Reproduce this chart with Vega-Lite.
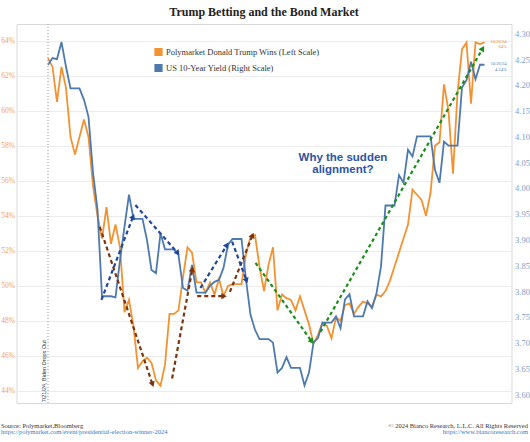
{
  "$schema": "https://vega.github.io/schema/vega-lite/v6.json",
  "width": 495,
  "height": 379,
  "autosize": {"type": "none"},
  "padding": {"left": 16.5, "top": 24, "right": 18.5, "bottom": 39},
  "background": "white",
  "title": {"text": "Trump Betting and the Bond Market", "font": "Liberation Serif", "fontSize": 12, "fontWeight": "bold", "color": "#222222", "anchor": "middle", "offset": 5},
  "datasets": {
    "series": [
      {"date": "2024-07-21", "polymarket": 63.0, "yield": 4.239},
      {"date": "2024-07-22", "polymarket": 62.5, "yield": 4.252},
      {"date": "2024-07-23", "polymarket": 60.5, "yield": 4.250},
      {"date": "2024-07-24", "polymarket": 62.5, "yield": 4.283},
      {"date": "2024-07-25", "polymarket": 61.3, "yield": 4.235},
      {"date": "2024-07-26", "polymarket": 58.5, "yield": 4.193},
      {"date": "2024-07-27", "polymarket": 57.5, "yield": 4.193},
      {"date": "2024-07-28", "polymarket": 58.5, "yield": 4.193},
      {"date": "2024-07-29", "polymarket": 59.5, "yield": 4.171},
      {"date": "2024-07-30", "polymarket": 58.5, "yield": 4.138},
      {"date": "2024-07-31", "polymarket": 55.7, "yield": 4.030},
      {"date": "2024-08-01", "polymarket": 54.0, "yield": 3.958},
      {"date": "2024-08-02", "polymarket": 52.7, "yield": 3.790},
      {"date": "2024-08-03", "polymarket": 54.5, "yield": 3.790},
      {"date": "2024-08-04", "polymarket": 52.4, "yield": 3.790},
      {"date": "2024-08-05", "polymarket": 53.5, "yield": 3.788},
      {"date": "2024-08-06", "polymarket": 52.2, "yield": 3.860},
      {"date": "2024-08-07", "polymarket": 48.5, "yield": 3.925},
      {"date": "2024-08-08", "polymarket": 49.2, "yield": 3.987},
      {"date": "2024-08-09", "polymarket": 47.7, "yield": 3.940},
      {"date": "2024-08-10", "polymarket": 45.3, "yield": 3.940},
      {"date": "2024-08-11", "polymarket": 45.7, "yield": 3.940},
      {"date": "2024-08-12", "polymarket": 45.9, "yield": 3.899},
      {"date": "2024-08-13", "polymarket": 45.6, "yield": 3.841},
      {"date": "2024-08-14", "polymarket": 44.6, "yield": 3.835},
      {"date": "2024-08-15", "polymarket": 44.3, "yield": 3.912},
      {"date": "2024-08-16", "polymarket": 45.5, "yield": 3.881},
      {"date": "2024-08-17", "polymarket": 48.4, "yield": 3.881},
      {"date": "2024-08-18", "polymarket": 48.4, "yield": 3.881},
      {"date": "2024-08-19", "polymarket": 48.6, "yield": 3.870},
      {"date": "2024-08-20", "polymarket": 50.5, "yield": 3.806},
      {"date": "2024-08-21", "polymarket": 52.2, "yield": 3.801},
      {"date": "2024-08-22", "polymarket": 51.9, "yield": 3.851},
      {"date": "2024-08-23", "polymarket": 50.2, "yield": 3.797},
      {"date": "2024-08-24", "polymarket": 50.2, "yield": 3.797},
      {"date": "2024-08-25", "polymarket": 49.6, "yield": 3.797},
      {"date": "2024-08-26", "polymarket": 50.2, "yield": 3.810},
      {"date": "2024-08-27", "polymarket": 49.5, "yield": 3.818},
      {"date": "2024-08-28", "polymarket": 50.4, "yield": 3.822},
      {"date": "2024-08-29", "polymarket": 49.4, "yield": 3.845},
      {"date": "2024-08-30", "polymarket": 50.0, "yield": 3.890},
      {"date": "2024-08-31", "polymarket": 50.1, "yield": 3.901},
      {"date": "2024-09-01", "polymarket": 50.1, "yield": 3.901},
      {"date": "2024-09-02", "polymarket": 50.1, "yield": 3.901},
      {"date": "2024-09-03", "polymarket": 51.8, "yield": 3.822},
      {"date": "2024-09-04", "polymarket": 52.8, "yield": 3.754},
      {"date": "2024-09-05", "polymarket": 52.9, "yield": 3.725},
      {"date": "2024-09-06", "polymarket": 51.1, "yield": 3.707},
      {"date": "2024-09-07", "polymarket": 49.7, "yield": 3.707},
      {"date": "2024-09-08", "polymarket": 51.2, "yield": 3.707},
      {"date": "2024-09-09", "polymarket": 52.2, "yield": 3.700},
      {"date": "2024-09-10", "polymarket": 48.6, "yield": 3.642},
      {"date": "2024-09-11", "polymarket": 49.5, "yield": 3.651},
      {"date": "2024-09-12", "polymarket": 49.3, "yield": 3.672},
      {"date": "2024-09-13", "polymarket": 49.2, "yield": 3.651},
      {"date": "2024-09-14", "polymarket": 48.6, "yield": 3.651},
      {"date": "2024-09-15", "polymarket": 49.4, "yield": 3.651},
      {"date": "2024-09-16", "polymarket": 48.6, "yield": 3.617},
      {"date": "2024-09-17", "polymarket": 47.8, "yield": 3.642},
      {"date": "2024-09-18", "polymarket": 46.7, "yield": 3.700},
      {"date": "2024-09-19", "polymarket": 47.2, "yield": 3.709},
      {"date": "2024-09-20", "polymarket": 47.9, "yield": 3.739},
      {"date": "2024-09-21", "polymarket": 47.7, "yield": 3.739},
      {"date": "2024-09-22", "polymarket": 47.0, "yield": 3.739},
      {"date": "2024-09-23", "polymarket": 48.2, "yield": 3.751},
      {"date": "2024-09-24", "polymarket": 48.0, "yield": 3.728},
      {"date": "2024-09-25", "polymarket": 48.9, "yield": 3.784},
      {"date": "2024-09-26", "polymarket": 49.0, "yield": 3.794},
      {"date": "2024-09-27", "polymarket": 48.4, "yield": 3.751},
      {"date": "2024-09-28", "polymarket": 48.8, "yield": 3.751},
      {"date": "2024-09-29", "polymarket": 49.1, "yield": 3.751},
      {"date": "2024-09-30", "polymarket": 49.0, "yield": 3.780},
      {"date": "2024-10-01", "polymarket": 48.8, "yield": 3.767},
      {"date": "2024-10-02", "polymarket": 49.5, "yield": 3.796},
      {"date": "2024-10-03", "polymarket": 49.4, "yield": 3.848},
      {"date": "2024-10-04", "polymarket": 49.7, "yield": 3.966},
      {"date": "2024-10-05", "polymarket": 50.3, "yield": 3.966},
      {"date": "2024-10-06", "polymarket": 51.1, "yield": 3.966},
      {"date": "2024-10-07", "polymarket": 51.9, "yield": 4.025},
      {"date": "2024-10-08", "polymarket": 52.7, "yield": 4.010},
      {"date": "2024-10-09", "polymarket": 53.5, "yield": 4.074},
      {"date": "2024-10-10", "polymarket": 55.5, "yield": 4.061},
      {"date": "2024-10-11", "polymarket": 55.2, "yield": 4.100},
      {"date": "2024-10-12", "polymarket": 54.9, "yield": 4.100},
      {"date": "2024-10-13", "polymarket": 54.0, "yield": 4.100},
      {"date": "2024-10-14", "polymarket": 55.3, "yield": 4.100},
      {"date": "2024-10-15", "polymarket": 58.0, "yield": 4.035},
      {"date": "2024-10-16", "polymarket": 58.2, "yield": 4.010},
      {"date": "2024-10-17", "polymarket": 61.5, "yield": 4.090},
      {"date": "2024-10-18", "polymarket": 60.0, "yield": 4.082},
      {"date": "2024-10-19", "polymarket": 56.4, "yield": 4.082},
      {"date": "2024-10-20", "polymarket": 61.0, "yield": 4.082},
      {"date": "2024-10-21", "polymarket": 63.5, "yield": 4.195},
      {"date": "2024-10-22", "polymarket": 63.9, "yield": 4.209},
      {"date": "2024-10-23", "polymarket": 60.4, "yield": 4.245},
      {"date": "2024-10-24", "polymarket": 63.9, "yield": 4.211},
      {"date": "2024-10-25", "polymarket": 63.8, "yield": 4.239},
      {"date": "2024-10-26", "polymarket": 63.9, "yield": 4.239}
    ],
    "arrows": [
      {"id": 1, "series": "Polymarket", "from_date": "2024-08-01T12:00Z", "from_value": 53.37, "to_date": "2024-08-13T04:00Z", "to_value": 44.42},
      {"id": 2, "series": "Polymarket", "from_date": "2024-08-17T14:00Z", "from_value": 44.71, "to_date": "2024-08-22T01:00Z", "to_value": 50.9},
      {"id": 3, "series": "Polymarket", "from_date": "2024-08-23T04:00Z", "from_value": 49.41, "to_date": "2024-08-28T22:00Z", "to_value": 49.41},
      {"id": 4, "series": "Polymarket", "from_date": "2024-08-30T10:00Z", "from_value": 49.66, "to_date": "2024-09-04T09:00Z", "to_value": 52.84},
      {"id": 5, "series": "Yield", "from_date": "2024-08-01T21:00Z", "from_value": 3.783, "to_date": "2024-08-08T20:00Z", "to_value": 3.943},
      {"id": 6, "series": "Yield", "from_date": "2024-08-09T10:00Z", "from_value": 3.967, "to_date": "2024-08-18T17:00Z", "to_value": 3.875},
      {"id": 7, "series": "Yield", "from_date": "2024-08-23T21:00Z", "from_value": 3.806, "to_date": "2024-08-29T16:00Z", "to_value": 3.888},
      {"id": 8, "series": "Yield", "from_date": "2024-08-30T22:00Z", "from_value": 3.896, "to_date": "2024-09-03T01:00Z", "to_value": 3.822},
      {"id": 9, "series": "Both", "from_date": "2024-09-05T03:00Z", "from_value": 51.31, "to_date": "2024-09-17T12:00Z", "to_value": 46.86},
      {"id": 10, "series": "Both", "from_date": "2024-09-19T13:00Z", "from_value": 47.37, "to_date": "2024-10-25T12:00Z", "to_value": 63.51}
    ],
    "notes": [
      {"kind": "event", "date": "2024-07-21", "value": 43.35, "text": "7/21/24, Biden Drops Out"},
      {"kind": "question", "date": "2024-09-24T13:00Z", "value": 57.14, "text": "Why the sudden\nalignment?"},
      {"kind": "polymarket_end", "date": "2024-10-30T22:00Z", "value": 63.9, "text": "10/26/24\n64%"},
      {"kind": "yield_end", "date": "2024-10-30T22:00Z", "value": 4.24, "text": "10/26/24\n4.24%"},
      {"kind": "source", "date": "2024-07-10T13:00Z", "value": 42.0, "text": "Source: Polymarket,Bloomberg"},
      {"kind": "source_url", "date": "2024-07-10T13:00Z", "value": 41.63, "text": "https://polymarket.com/event/presidential-election-winner-2024"},
      {"kind": "copyright", "date": "2024-11-04T16:00Z", "value": 42.0, "text": "© 2024 Bianco Research, L.L.C. All Rights Reserved"},
      {"kind": "copyright_url", "date": "2024-11-04T16:00Z", "value": 41.65, "text": "https://www.biancoresearch.com"}
    ]
  },
  "layer": [
    {
      "data": {"name": "series"},
      "mark": {"type": "line", "strokeWidth": 1.8},
      "encoding": {
        "x": {"field": "date", "type": "temporal", "scale": {"type": "utc", "domain": [{"year": 2024, "month": 7, "date": 14, "utc": true}, {"year": 2024, "month": 11, "date": 1, "utc": true}]},
          "axis": {"orient": "bottom", "values": [{"year": 2024, "month": 7, "date": 14, "utc": true}, {"year": 2024, "month": 7, "date": 24, "utc": true}, {"year": 2024, "month": 8, "date": 3, "utc": true}, {"year": 2024, "month": 8, "date": 13, "utc": true}, {"year": 2024, "month": 8, "date": 23, "utc": true}, {"year": 2024, "month": 9, "date": 2, "utc": true}, {"year": 2024, "month": 9, "date": 12, "utc": true}, {"year": 2024, "month": 9, "date": 22, "utc": true}, {"year": 2024, "month": 10, "date": 2, "utc": true}, {"year": 2024, "month": 10, "date": 12, "utc": true}, {"year": 2024, "month": 10, "date": 22, "utc": true}, {"year": 2024, "month": 11, "date": 1, "utc": true}],
            "labelExpr": "utcFormat(datum.value, '%b %-d')", "labelFlush": true, "labelOverlap": false, "ticks": false, "domain": false, "grid": false, "title": null,
            "labelFont": "Liberation Serif", "labelFontSize": 8, "labelColor": "#555555", "labelPadding": 4}},
        "y": {"field": "polymarket", "type": "quantitative", "scale": {"domain": [43.31, 64.95], "nice": false, "zero": false},
          "axis": {"orient": "left", "values": [44, 46, 48, 50, 52, 54, 56, 58, 60, 62, 64], "labelExpr": "datum.value + '%'", "grid": true, "gridColor": "#ececec", "ticks": false, "domain": false, "title": null,
            "labelFont": "Liberation Serif", "labelFontSize": 7.5, "labelColor": "#f2a25c", "labelPadding": 2}},
        "color": {"datum": "Polymarket Donald Trump Wins (Left Scale)", "type": "nominal",
          "scale": {"domain": ["Polymarket Donald Trump Wins (Left Scale)", "US 10-Year Yield (Right Scale)"], "range": ["#f39232", "#4e79ae"]},
          "legend": {"orient": "none", "legendX": 137.5, "legendY": 23.5, "title": null, "symbolType": "square", "symbolSize": 45, "padding": 0, "rowPadding": 3, "labelOffset": 3,
            "labelFont": "Liberation Serif", "labelFontSize": 8.5, "labelColor": "#333333",
            "encode": {"symbols": {"update": {"fill": {"scale": "color", "field": "value"}, "stroke": {"value": "transparent"}}}}}}
      }
    },
    {
      "data": {"name": "series"},
      "mark": {"type": "line", "strokeWidth": 1.8},
      "encoding": {
        "x": {"field": "date", "type": "temporal", "scale": {"type": "utc", "domain": [{"year": 2024, "month": 7, "date": 14, "utc": true}, {"year": 2024, "month": 11, "date": 1, "utc": true}]}, "axis": null},
        "y": {"field": "yield", "type": "quantitative", "scale": {"domain": [3.583, 4.318], "nice": false, "zero": false},
          "axis": {"orient": "right", "values": [3.6, 3.65, 3.7, 3.75, 3.8, 3.85, 3.9, 3.95, 4.0, 4.05, 4.1, 4.15, 4.2, 4.25, 4.3], "format": ".2f", "grid": false, "ticks": false, "domain": false, "title": null,
            "labelFont": "Liberation Serif", "labelFontSize": 8.5, "labelColor": "#7f9cc4", "labelPadding": 3}},
        "color": {"datum": "US 10-Year Yield (Right Scale)", "type": "nominal"}
      }
    },
    {
      "data": {"name": "notes"},
      "transform": [{"filter": "datum.kind == 'event'"}],
      "mark": {"type": "rule", "color": "#999999", "strokeWidth": 1, "strokeDash": [1, 2]},
      "encoding": {
        "x": {"field": "date", "type": "temporal", "scale": {"type": "utc", "domain": [{"year": 2024, "month": 7, "date": 14, "utc": true}, {"year": 2024, "month": 11, "date": 1, "utc": true}]}, "axis": null}
      }
    },
    {
      "data": {"name": "notes"},
      "transform": [{"filter": "datum.kind == 'event'"}],
      "mark": {"type": "text", "angle": 270, "align": "left", "baseline": "bottom", "dy": -1.5, "font": "Liberation Sans", "fontSize": 5.5, "color": "#333333"},
      "encoding": {
        "x": {"field": "date", "type": "temporal", "scale": {"type": "utc", "domain": [{"year": 2024, "month": 7, "date": 14, "utc": true}, {"year": 2024, "month": 11, "date": 1, "utc": true}]}, "axis": null},
        "y": {"field": "value", "type": "quantitative", "scale": {"domain": [43.31, 64.95], "nice": false, "zero": false}, "axis": null},
        "text": {"field": "text"}
      }
    },
    {
      "data": {"name": "arrows"},
      "transform": [{"filter": "datum.series == 'Polymarket'"}],
      "mark": {"type": "rule", "color": "#7a3410", "strokeWidth": 2.2, "strokeDash": [4, 3]},
      "encoding": {
        "x": {"field": "from_date", "type": "temporal", "scale": {"type": "utc", "domain": [{"year": 2024, "month": 7, "date": 14, "utc": true}, {"year": 2024, "month": 11, "date": 1, "utc": true}]}, "axis": null},
        "x2": {"field": "to_date"},
        "y": {"field": "from_value", "type": "quantitative", "scale": {"domain": [43.31, 64.95], "nice": false, "zero": false}, "axis": null},
        "y2": {"field": "to_value"}
      }
    },
    {
      "data": {"name": "arrows"},
      "transform": [{"filter": "datum.series == 'Yield'"}],
      "mark": {"type": "rule", "color": "#21479c", "strokeWidth": 2.2, "strokeDash": [4, 3]},
      "encoding": {
        "x": {"field": "from_date", "type": "temporal", "scale": {"type": "utc", "domain": [{"year": 2024, "month": 7, "date": 14, "utc": true}, {"year": 2024, "month": 11, "date": 1, "utc": true}]}, "axis": null},
        "x2": {"field": "to_date"},
        "y": {"field": "from_value", "type": "quantitative", "scale": {"domain": [3.583, 4.318], "nice": false, "zero": false}, "axis": null},
        "y2": {"field": "to_value"}
      }
    },
    {
      "data": {"name": "arrows"},
      "transform": [{"filter": "datum.series == 'Both'"}],
      "mark": {"type": "rule", "color": "#1b8d1b", "strokeWidth": 2.2, "strokeDash": [3.5, 3]},
      "encoding": {
        "x": {"field": "from_date", "type": "temporal", "scale": {"type": "utc", "domain": [{"year": 2024, "month": 7, "date": 14, "utc": true}, {"year": 2024, "month": 11, "date": 1, "utc": true}]}, "axis": null},
        "x2": {"field": "to_date"},
        "y": {"field": "from_value", "type": "quantitative", "scale": {"domain": [43.31, 64.95], "nice": false, "zero": false}, "axis": null},
        "y2": {"field": "to_value"}
      }
    },
    {"data": {"name": "arrows"}, "transform": [{"filter": "datum.id == 1"}],
      "mark": {"type": "point", "shape": "triangle", "filled": true, "opacity": 1, "size": 40, "angle": 161.5, "color": "#7a3410"},
      "encoding": {"x": {"field": "to_date", "type": "temporal", "scale": {"type": "utc", "domain": [{"year": 2024, "month": 7, "date": 14, "utc": true}, {"year": 2024, "month": 11, "date": 1, "utc": true}]}, "axis": null},
        "y": {"field": "to_value", "type": "quantitative", "scale": {"domain": [43.31, 64.95], "nice": false, "zero": false}, "axis": null}}},
    {"data": {"name": "arrows"}, "transform": [{"filter": "datum.id == 2"}],
      "mark": {"type": "point", "shape": "triangle", "filled": true, "opacity": 1, "size": 40, "angle": 10.5, "color": "#7a3410"},
      "encoding": {"x": {"field": "to_date", "type": "temporal", "scale": {"type": "utc", "domain": [{"year": 2024, "month": 7, "date": 14, "utc": true}, {"year": 2024, "month": 11, "date": 1, "utc": true}]}, "axis": null},
        "y": {"field": "to_value", "type": "quantitative", "scale": {"domain": [43.31, 64.95], "nice": false, "zero": false}, "axis": null}}},
    {"data": {"name": "arrows"}, "transform": [{"filter": "datum.id == 3"}],
      "mark": {"type": "point", "shape": "triangle", "filled": true, "opacity": 1, "size": 40, "angle": 90, "color": "#7a3410"},
      "encoding": {"x": {"field": "to_date", "type": "temporal", "scale": {"type": "utc", "domain": [{"year": 2024, "month": 7, "date": 14, "utc": true}, {"year": 2024, "month": 11, "date": 1, "utc": true}]}, "axis": null},
        "y": {"field": "to_value", "type": "quantitative", "scale": {"domain": [43.31, 64.95], "nice": false, "zero": false}, "axis": null}}},
    {"data": {"name": "arrows"}, "transform": [{"filter": "datum.id == 4"}],
      "mark": {"type": "point", "shape": "triangle", "filled": true, "opacity": 1, "size": 40, "angle": 21.9, "color": "#7a3410"},
      "encoding": {"x": {"field": "to_date", "type": "temporal", "scale": {"type": "utc", "domain": [{"year": 2024, "month": 7, "date": 14, "utc": true}, {"year": 2024, "month": 11, "date": 1, "utc": true}]}, "axis": null},
        "y": {"field": "to_value", "type": "quantitative", "scale": {"domain": [43.31, 64.95], "nice": false, "zero": false}, "axis": null}}},
    {"data": {"name": "arrows"}, "transform": [{"filter": "datum.id == 5"}],
      "mark": {"type": "point", "shape": "triangle", "filled": true, "opacity": 1, "size": 40, "angle": 23.4, "color": "#21479c"},
      "encoding": {"x": {"field": "to_date", "type": "temporal", "scale": {"type": "utc", "domain": [{"year": 2024, "month": 7, "date": 14, "utc": true}, {"year": 2024, "month": 11, "date": 1, "utc": true}]}, "axis": null},
        "y": {"field": "to_value", "type": "quantitative", "scale": {"domain": [3.583, 4.318], "nice": false, "zero": false}, "axis": null}}},
    {"data": {"name": "arrows"}, "transform": [{"filter": "datum.id == 6"}],
      "mark": {"type": "point", "shape": "triangle", "filled": true, "opacity": 1, "size": 40, "angle": 141.9, "color": "#21479c"},
      "encoding": {"x": {"field": "to_date", "type": "temporal", "scale": {"type": "utc", "domain": [{"year": 2024, "month": 7, "date": 14, "utc": true}, {"year": 2024, "month": 11, "date": 1, "utc": true}]}, "axis": null},
        "y": {"field": "to_value", "type": "quantitative", "scale": {"domain": [3.583, 4.318], "nice": false, "zero": false}, "axis": null}}},
    {"data": {"name": "arrows"}, "transform": [{"filter": "datum.id == 7"}],
      "mark": {"type": "point", "shape": "triangle", "filled": true, "opacity": 1, "size": 40, "angle": 31.8, "color": "#21479c"},
      "encoding": {"x": {"field": "to_date", "type": "temporal", "scale": {"type": "utc", "domain": [{"year": 2024, "month": 7, "date": 14, "utc": true}, {"year": 2024, "month": 11, "date": 1, "utc": true}]}, "axis": null},
        "y": {"field": "to_value", "type": "quantitative", "scale": {"domain": [3.583, 4.318], "nice": false, "zero": false}, "axis": null}}},
    {"data": {"name": "arrows"}, "transform": [{"filter": "datum.id == 8"}],
      "mark": {"type": "point", "shape": "triangle", "filled": true, "opacity": 1, "size": 40, "angle": 159.9, "color": "#21479c"},
      "encoding": {"x": {"field": "to_date", "type": "temporal", "scale": {"type": "utc", "domain": [{"year": 2024, "month": 7, "date": 14, "utc": true}, {"year": 2024, "month": 11, "date": 1, "utc": true}]}, "axis": null},
        "y": {"field": "to_value", "type": "quantitative", "scale": {"domain": [3.583, 4.318], "nice": false, "zero": false}, "axis": null}}},
    {"data": {"name": "arrows"}, "transform": [{"filter": "datum.id == 9"}],
      "mark": {"type": "point", "shape": "triangle", "filled": true, "opacity": 1, "size": 40, "angle": 144.5, "color": "#1b8d1b"},
      "encoding": {"x": {"field": "to_date", "type": "temporal", "scale": {"type": "utc", "domain": [{"year": 2024, "month": 7, "date": 14, "utc": true}, {"year": 2024, "month": 11, "date": 1, "utc": true}]}, "axis": null},
        "y": {"field": "to_value", "type": "quantitative", "scale": {"domain": [43.31, 64.95], "nice": false, "zero": false}, "axis": null}}},
    {"data": {"name": "arrows"}, "transform": [{"filter": "datum.id == 10"}],
      "mark": {"type": "point", "shape": "triangle", "filled": true, "opacity": 1, "size": 40, "angle": 29.8, "color": "#1b8d1b"},
      "encoding": {"x": {"field": "to_date", "type": "temporal", "scale": {"type": "utc", "domain": [{"year": 2024, "month": 7, "date": 14, "utc": true}, {"year": 2024, "month": 11, "date": 1, "utc": true}]}, "axis": null},
        "y": {"field": "to_value", "type": "quantitative", "scale": {"domain": [43.31, 64.95], "nice": false, "zero": false}, "axis": null}}},
    {
      "data": {"name": "notes"},
      "transform": [{"filter": "datum.kind == 'question'"}],
      "mark": {"type": "text", "align": "center", "baseline": "alphabetic", "lineBreak": "\n", "lineHeight": 12, "font": "Liberation Sans", "fontSize": 11.5, "fontWeight": "bold", "color": "#2e54a3"},
      "encoding": {
        "x": {"field": "date", "type": "temporal", "scale": {"type": "utc", "domain": [{"year": 2024, "month": 7, "date": 14, "utc": true}, {"year": 2024, "month": 11, "date": 1, "utc": true}]}, "axis": null},
        "y": {"field": "value", "type": "quantitative", "scale": {"domain": [43.31, 64.95], "nice": false, "zero": false}, "axis": null},
        "text": {"field": "text"}
      }
    },
    {
      "data": {"name": "notes"},
      "transform": [{"filter": "datum.kind == 'polymarket_end'"}],
      "mark": {"type": "text", "align": "right", "baseline": "middle", "lineBreak": "\n", "lineHeight": 5, "font": "Liberation Serif", "fontSize": 4.5, "color": "#e8872a"},
      "encoding": {
        "x": {"field": "date", "type": "temporal", "scale": {"type": "utc", "domain": [{"year": 2024, "month": 7, "date": 14, "utc": true}, {"year": 2024, "month": 11, "date": 1, "utc": true}]}, "axis": null},
        "y": {"field": "value", "type": "quantitative", "scale": {"domain": [43.31, 64.95], "nice": false, "zero": false}, "axis": null},
        "text": {"field": "text"}
      }
    },
    {
      "data": {"name": "notes"},
      "transform": [{"filter": "datum.kind == 'yield_end'"}],
      "mark": {"type": "text", "align": "right", "baseline": "middle", "lineBreak": "\n", "lineHeight": 5.5, "font": "Liberation Serif", "fontSize": 4.5, "color": "#4e79ae"},
      "encoding": {
        "x": {"field": "date", "type": "temporal", "scale": {"type": "utc", "domain": [{"year": 2024, "month": 7, "date": 14, "utc": true}, {"year": 2024, "month": 11, "date": 1, "utc": true}]}, "axis": null},
        "y": {"field": "value", "type": "quantitative", "scale": {"domain": [3.583, 4.318], "nice": false, "zero": false}, "axis": null},
        "text": {"field": "text"}
      }
    },
    {
      "data": {"name": "notes"},
      "transform": [{"filter": "datum.kind == 'source'"}],
      "mark": {"type": "text", "align": "left", "baseline": "middle", "font": "Liberation Serif", "fontSize": 6.5, "color": "#333333"},
      "encoding": {
        "x": {"field": "date", "type": "temporal", "scale": {"type": "utc", "domain": [{"year": 2024, "month": 7, "date": 14, "utc": true}, {"year": 2024, "month": 11, "date": 1, "utc": true}]}, "axis": null},
        "y": {"field": "value", "type": "quantitative", "scale": {"domain": [43.31, 64.95], "nice": false, "zero": false}, "axis": null},
        "text": {"field": "text"}
      }
    },
    {
      "data": {"name": "notes"},
      "transform": [{"filter": "datum.kind == 'source_url'"}],
      "mark": {"type": "text", "align": "left", "baseline": "middle", "font": "Liberation Serif", "fontSize": 6.5, "color": "#2f7cc1"},
      "encoding": {
        "x": {"field": "date", "type": "temporal", "scale": {"type": "utc", "domain": [{"year": 2024, "month": 7, "date": 14, "utc": true}, {"year": 2024, "month": 11, "date": 1, "utc": true}]}, "axis": null},
        "y": {"field": "value", "type": "quantitative", "scale": {"domain": [43.31, 64.95], "nice": false, "zero": false}, "axis": null},
        "text": {"field": "text"}
      }
    },
    {
      "data": {"name": "notes"},
      "transform": [{"filter": "datum.kind == 'copyright'"}],
      "mark": {"type": "text", "align": "right", "baseline": "middle", "font": "Liberation Serif", "fontSize": 6.5, "color": "#333333"},
      "encoding": {
        "x": {"field": "date", "type": "temporal", "scale": {"type": "utc", "domain": [{"year": 2024, "month": 7, "date": 14, "utc": true}, {"year": 2024, "month": 11, "date": 1, "utc": true}]}, "axis": null},
        "y": {"field": "value", "type": "quantitative", "scale": {"domain": [43.31, 64.95], "nice": false, "zero": false}, "axis": null},
        "text": {"field": "text"}
      }
    },
    {
      "data": {"name": "notes"},
      "transform": [{"filter": "datum.kind == 'copyright_url'"}],
      "mark": {"type": "text", "align": "right", "baseline": "middle", "font": "Liberation Serif", "fontSize": 6.5, "color": "#2f7cc1"},
      "encoding": {
        "x": {"field": "date", "type": "temporal", "scale": {"type": "utc", "domain": [{"year": 2024, "month": 7, "date": 14, "utc": true}, {"year": 2024, "month": 11, "date": 1, "utc": true}]}, "axis": null},
        "y": {"field": "value", "type": "quantitative", "scale": {"domain": [43.31, 64.95], "nice": false, "zero": false}, "axis": null},
        "text": {"field": "text"}
      }
    }
  ],
  "resolve": {"scale": {"y": "independent"}},
  "config": {
    "view": {"stroke": "#d9d9d9", "strokeWidth": 1}
  }
}
